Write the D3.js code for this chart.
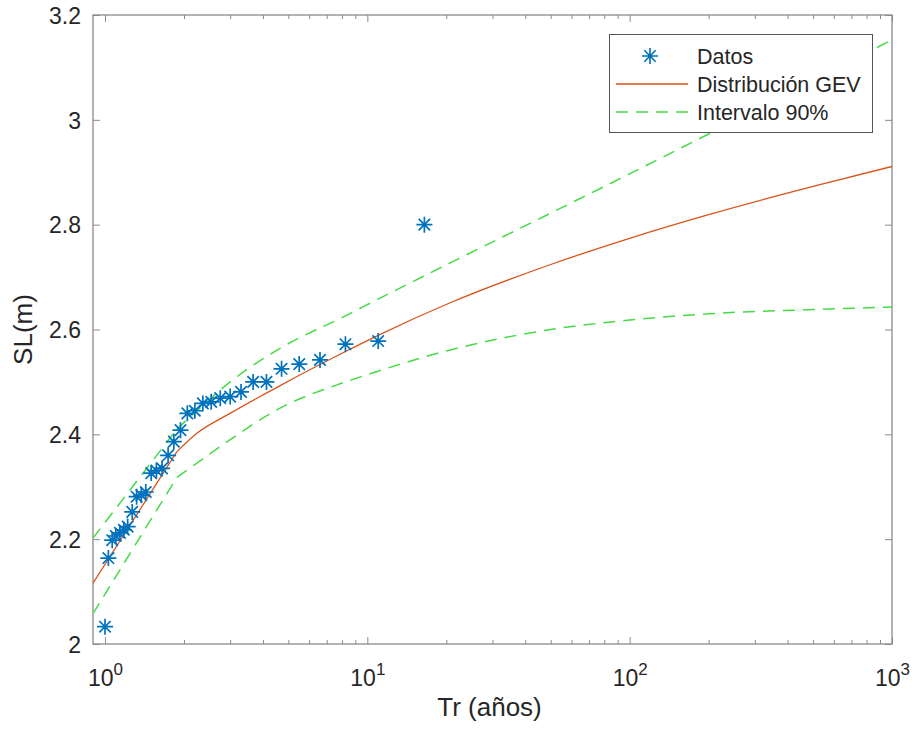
<!DOCTYPE html>
<html>
<head>
<meta charset="utf-8">
<script src="https://cdn.jsdelivr.net/npm/d3@7"></script>
<style>
  html, body { margin: 0; padding: 0; background: #fff; }
  text { font-family: Arial, "Liberation Sans", Helvetica, sans-serif; }
</style>
</head>
<body>
<svg id="chart" width="912" height="731"></svg>
<script>
// Observed annual sea levels and their return periods
const returnPeriods = [1.0, 1.03, 1.065, 1.10, 1.14, 1.18, 1.22, 1.27, 1.32, 1.375, 1.43, 1.5, 1.57, 1.65,
  1.74, 1.83, 1.94, 2.06, 2.2, 2.36, 2.54, 2.75, 3.0, 3.3, 3.67, 4.125, 4.71, 5.5, 6.6, 8.25, 11, 16.5];
const seaLevels = [2.033, 2.164, 2.198, 2.206, 2.212, 2.218, 2.224, 2.252, 2.281, 2.284, 2.29, 2.326, 2.331, 2.335,
  2.36, 2.386, 2.408, 2.44, 2.445, 2.459, 2.462, 2.469, 2.472, 2.481, 2.50, 2.50, 2.525, 2.534, 2.542, 2.572, 2.578, 2.80];

// Fitted GEV quantile curve and its 90% confidence band
const curveT     = [0.9, 1.88, 2.24, 3.0, 4.65, 8.25, 10.9, 20.7, 50, 100, 200, 500, 1000];
const gevFit     = [2.116, 2.367, 2.402, 2.440, 2.493, 2.558, 2.588, 2.651, 2.724, 2.774, 2.819, 2.873, 2.911];
const upperBound = [2.202, 2.41, 2.445, 2.50, 2.564, 2.626, 2.657, 2.727, 2.822, 2.897, 2.973, 3.074, 3.153];
const lowerBound = [2.058, 2.318, 2.345, 2.39, 2.45, 2.50, 2.52, 2.561, 2.60, 2.618, 2.63, 2.638, 2.643];

const yTicks = [2, 2.2, 2.4, 2.6, 2.8, 3, 3.2];
const xMajorTicks = [1, 10, 100, 1000];
const xExponents = ["0", "1", "2", "3"];
const legendLabels = ["Datos", "Distribución GEV", "Intervalo 90%"];

const svg = d3.select("#chart");
const plotLeft = 93, plotTop = 15, plotRight = 892, plotBottom = 644;
const axisColor = "#8a8a8a";
const textColor = "#262626";
const dataColor = "#0072BD";
const fitColor = "#D95319";
const bandColor = "#46DB46";

const x = d3.scaleLog().domain([0.9, 1000]).range([plotLeft, plotRight]);
const y = d3.scaleLinear().domain([2, 3.2]).range([plotBottom, plotTop]);

// minor ticks 2..9 within each decade
const xMinorTicks = [];
for (const base of [1, 10, 100]) for (let m = 2; m <= 9; m++) xMinorTicks.push(base * m);

svg.append("defs").append("clipPath").attr("id", "plotClip")
  .append("rect").attr("x", plotLeft).attr("y", plotTop)
  .attr("width", plotRight - plotLeft).attr("height", plotBottom - plotTop);

function styleAxis(g) {
  g.select(".domain").remove();
  g.selectAll(".tick line").attr("stroke", axisColor).attr("stroke-width", 1);
  g.selectAll(".tick text").attr("fill", textColor);
}

// Y axis (left with labels, right ticks only)
svg.append("g").attr("transform", `translate(${plotLeft},0)`)
  .call(d3.axisLeft(y).tickValues(yTicks).tickFormat(d3.format("")).tickSize(-7).tickPadding(12))
  .call(styleAxis)
  .call(g => g.selectAll(".tick text").attr("font-size", 23).attr("dy", "0.36em"));
svg.append("g").attr("transform", `translate(${plotRight},0)`)
  .call(d3.axisRight(y).tickValues(yTicks).tickFormat("").tickSize(-7))
  .call(styleAxis);

// X axis: minor and major ticks at bottom and top
svg.append("g").attr("transform", `translate(0,${plotBottom})`)
  .call(d3.axisBottom(x).tickValues(xMinorTicks).tickFormat("").tickSize(-4))
  .call(styleAxis);
svg.append("g").attr("transform", `translate(0,${plotTop})`)
  .call(d3.axisTop(x).tickValues(xMinorTicks).tickFormat("").tickSize(-4))
  .call(styleAxis);
svg.append("g").attr("transform", `translate(0,${plotTop})`)
  .call(d3.axisTop(x).tickValues(xMajorTicks).tickFormat("").tickSize(-7))
  .call(styleAxis);
const xMajor = svg.append("g").attr("transform", `translate(0,${plotBottom})`)
  .call(d3.axisBottom(x).tickValues(xMajorTicks).tickFormat("").tickSize(-7))
  .call(styleAxis);
xMajor.selectAll(".tick").each(function (d, i) {
  const t = d3.select(this).append("text")
    .attr("fill", textColor).attr("text-anchor", "middle").attr("y", 42).attr("font-size", 23);
  t.append("tspan").text("10");
  t.append("tspan").attr("dy", -11).attr("font-size", 17).text(xExponents[i]);
});

// box frame
svg.append("rect").attr("x", plotLeft).attr("y", plotTop)
  .attr("width", plotRight - plotLeft).attr("height", plotBottom - plotTop)
  .attr("fill", "none").attr("stroke", axisColor).attr("stroke-width", 1.3);

// axis titles
svg.append("text").attr("x", (plotLeft + plotRight) / 2 - 3).attr("y", 716).attr("text-anchor", "middle")
  .attr("font-size", 26).attr("fill", textColor).text("Tr (años)");
svg.append("text").attr("transform", `translate(32,${(plotTop + plotBottom) / 2}) rotate(-90)`)
  .attr("text-anchor", "middle").attr("font-size", 26).attr("fill", textColor).text("SL(m)");

// curves: a straight first segment, smooth afterwards
const plot = svg.append("g").attr("clip-path", "url(#plotClip)");
function drawCurve(values, color, dash, width) {
  const pts = curveT.map((t, i) => [x(t), y(values[i])]);
  plot.append("path").attr("d", d3.line().curve(d3.curveLinear)(pts.slice(0, 2)))
    .attr("fill", "none").attr("stroke", color).attr("stroke-width", width).attr("stroke-dasharray", dash);
  plot.append("path").attr("d", d3.line().curve(d3.curveMonotoneX)(pts.slice(1)))
    .attr("fill", "none").attr("stroke", color).attr("stroke-width", width).attr("stroke-dasharray", dash);
}
drawCurve(upperBound, bandColor, "12,8", 1.5);
drawCurve(lowerBound, bandColor, "12,8", 1.5);
drawCurve(gevFit, fitColor, null, 1.3);

// asterisk marker
const r = 8, dd = 5.7;
const starPath = `M0,${-r}V${r}M${-r},0H${r}M${-dd},${-dd}L${dd},${dd}M${-dd},${dd}L${dd},${-dd}`;
plot.selectAll(".star").data(returnPeriods).join("path").attr("class", "star")
  .attr("transform", (t, i) => `translate(${x(t)},${y(seaLevels[i])})`)
  .attr("d", starPath).attr("fill", "none").attr("stroke", dataColor).attr("stroke-width", 1.7);

// legend
const lg = svg.append("g");
lg.append("rect").attr("x", 609.5).attr("y", 34.5).attr("width", 263).attr("height", 98)
  .attr("fill", "#fff").attr("stroke", "#555").attr("stroke-width", 1);
const rowY = [56, 84, 112];
lg.append("path").attr("transform", `translate(650,${rowY[0]})`).attr("d", starPath)
  .attr("fill", "none").attr("stroke", dataColor).attr("stroke-width", 1.6);
lg.append("line").attr("x1", 616).attr("x2", 688).attr("y1", rowY[1]).attr("y2", rowY[1])
  .attr("stroke", fitColor).attr("stroke-width", 1.3);
lg.append("line").attr("x1", 616).attr("x2", 688).attr("y1", rowY[2]).attr("y2", rowY[2])
  .attr("stroke", bandColor).attr("stroke-width", 1.5).attr("stroke-dasharray", "12,8");
legendLabels.forEach((lab, i) => {
  lg.append("text").attr("x", 697).attr("y", rowY[i]).attr("dy", "0.36em")
    .attr("font-size", 21.5).attr("fill", textColor).text(lab);
});
</script>
</body>
</html>
